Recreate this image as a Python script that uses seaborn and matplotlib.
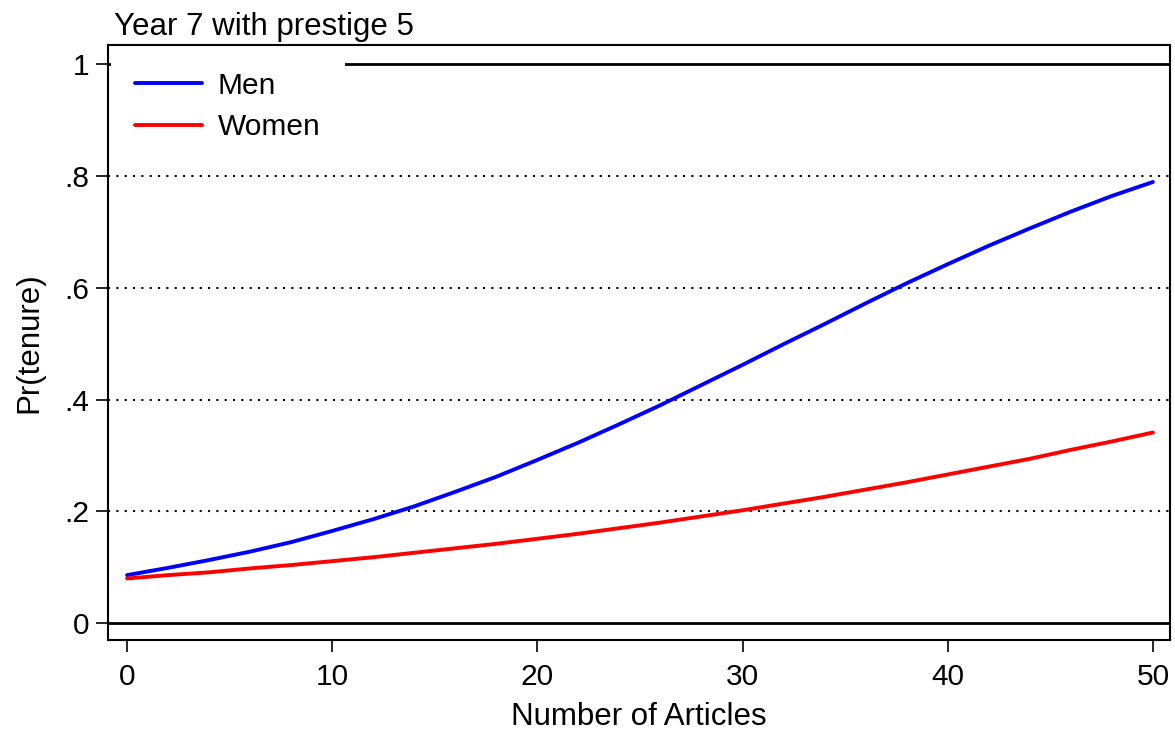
import matplotlib
matplotlib.use("Agg")
import matplotlib.pyplot as plt
import seaborn as sns
import pandas as pd

articles = [0, 2, 4, 6, 8, 10, 12, 14, 16, 18, 20, 22, 24, 26, 28, 30,
            32, 34, 36, 38, 40, 42, 44, 46, 48, 50]
men = [0.086, 0.099, 0.113, 0.128, 0.145, 0.165, 0.186, 0.209, 0.235, 0.262,
       0.292, 0.323, 0.356, 0.390, 0.426, 0.462, 0.499, 0.535, 0.572, 0.608,
       0.642, 0.675, 0.706, 0.736, 0.764, 0.789]
women = [0.080, 0.086, 0.091, 0.098, 0.104, 0.111, 0.118, 0.126, 0.134, 0.142,
         0.151, 0.160, 0.170, 0.180, 0.191, 0.202, 0.214, 0.226, 0.239, 0.252,
         0.266, 0.280, 0.294, 0.310, 0.325, 0.341]
yticks = [0, 0.2, 0.4, 0.6, 0.8, 1.0]
yticklabels = ["0", ".2", ".4", ".6", ".8", "1"]
xticks = [0, 10, 20, 30, 40, 50]

df = pd.DataFrame({
    "articles": articles * 2,
    "pr": men + women,
    "group": ["Men"] * len(men) + ["Women"] * len(women),
})

sns.set_style("ticks")
plt.rcParams["font.family"] = ["Liberation Sans", "DejaVu Sans"]
plt.rcParams["text.color"] = "black"
plt.rcParams["axes.labelcolor"] = "black"
plt.rcParams["xtick.color"] = "black"
plt.rcParams["ytick.color"] = "black"

fig = plt.figure(figsize=(11.75, 7.3), dpi=100)
ax = fig.add_axes([0.0919, 0.1233, 0.9038, 0.8151])

for g in [0.2, 0.4, 0.6, 0.8]:
    ax.axhline(g, color="black", lw=1.5, ls=(0, (1, 3)), zorder=1)
for g in [0.0, 1.0]:
    ax.axhline(g, color="black", lw=2.0, zorder=1.5)

sns.lineplot(data=df, x="articles", y="pr", hue="group",
             palette={"Men": "#0000ff", "Women": "#ff0000"},
             lw=2.8, ax=ax, zorder=3)

ax.set_xlim(-0.93, 50.83)
ax.set_ylim(-0.030, 1.034)
ax.set_xticks(xticks)
ax.set_xticklabels([str(v) for v in xticks])
ax.set_yticks(yticks)
ax.set_yticklabels(yticklabels)
ax.tick_params(axis="both", labelsize=21.5, length=8.5, width=1.2,
               color="black", labelcolor="black", pad=5)
ax.tick_params(axis="x", pad=8)
for s in ax.spines.values():
    s.set_visible(True)
    s.set_color("black")
    s.set_linewidth(1.5)

ax.set_xlabel("Number of Articles", fontsize=22.5, labelpad=8, color="black")
ax.set_ylabel("Pr(tenure)", fontsize=22.5, labelpad=14, color="black")
ax.set_title("Year 7 with prestige 5", loc="left", fontsize=22.5, pad=7,
             x=0.006, color="black")

leg = ax.legend(loc="upper left", fontsize=21.5, frameon=True, fancybox=False,
                handlelength=2.25, handletextpad=0.53, borderaxespad=0.1,
                borderpad=0.8, labelspacing=0.45, title=None)
leg.get_frame().set_facecolor("white")
leg.get_frame().set_edgecolor("white")
leg.get_frame().set_linewidth(0)
leg.get_frame().set_alpha(1.0)
leg.set_zorder(5)
for t in leg.get_texts():
    t.set_color("black")
for line in leg.get_lines():
    line.set_linewidth(2.8)

fig.savefig("out.png", dpi=100, facecolor="white")
